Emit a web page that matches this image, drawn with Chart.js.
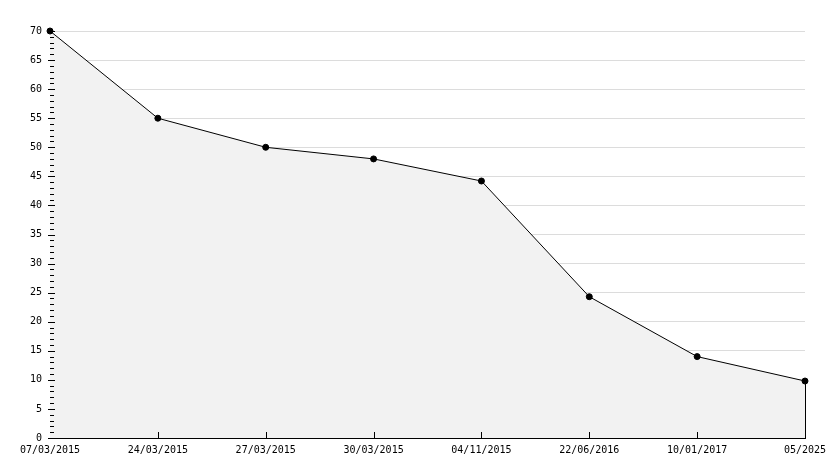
<!DOCTYPE html>
<html>
<head>
<meta charset="utf-8">
<script src="https://cdn.jsdelivr.net/npm/chart.js@4/dist/chart.umd.min.js"></script>
<style>
    html, body { margin: 0; padding: 0; background: #fff; }
</style>
</head>
<body>
<canvas id="chart" width="834" height="468"></canvas>
<script>
/* line chart data */
let
    dateLabels = ['07/03/2015', '24/03/2015', '27/03/2015', '30/03/2015', '04/11/2015', '22/06/2016', '10/01/2017', '05/2025'],
    values = [70, 55, 50, 48, 44.2, 24.3, 14, 9.8],
    yMin = 0,
    yMax = 70,
    yStep = 5;

Chart.defaults.font.family = '"DejaVu Sans Mono", monospace';
Chart.defaults.font.size = 10;
Chart.defaults.color = '#000';

// small inward ticks on both axes + right edge of the filled area
let axisTicks = {
    id: 'axisTicks',
    afterDatasetsDraw(chart) {
        let ctx = chart.ctx, x = chart.scales.x, y = chart.scales.y;
        let left = chart.chartArea.left, bottom = chart.chartArea.bottom;
        ctx.save();
        ctx.strokeStyle = '#000';
        ctx.lineWidth = 1;
        ctx.beginPath();
        for (let v = yMin; v <= yMax; v++) {
            let py = Math.round(y.getPixelForValue(v)) + 0.5;
            let major = v % yStep === 0;
            ctx.moveTo(left - (major ? 2 : 0), py);
            ctx.lineTo(left + (major ? 5 : 4), py);
        }
        for (let i = 1; i < dateLabels.length; i++) {
            let px = Math.round(x.getPixelForValue(i)) + 0.5;
            ctx.moveTo(px, bottom);
            ctx.lineTo(px, bottom - 6);
        }
        let last = values.length - 1;
        let lx = Math.round(x.getPixelForValue(last)) + 0.5;
        ctx.moveTo(lx, y.getPixelForValue(values[last]));
        ctx.lineTo(lx, bottom);
        ctx.stroke();
        ctx.restore();
    }
};

function displayLineChart() {
    let lineCtx = document.querySelector('#chart').getContext('2d');
    let lineChart;
    lineChart = new Chart(lineCtx, {
        type: 'line',
        data: {
            labels: dateLabels,
            datasets: [{
                data: values,
                borderColor: '#000',
                borderWidth: 1,
                backgroundColor: '#f2f2f2',
                fill: 'origin',
                tension: 0,
                clip: false,
                pointRadius: 3,
                pointStyle: 'circle',
                pointBackgroundColor: '#000',
                pointBorderColor: '#000',
                pointBorderWidth: 1
            }]
        },
        options: {
            responsive: false,
            animation: false,
            devicePixelRatio: 1,
            layout: {
                padding: { top: 31, right: 29, left: 0, bottom: 0 }
            },
            plugins: {
                legend: { display: false },
                tooltip: { enabled: false }
            },
            scales: {
                x: {
                    type: 'category',
                    offset: false,
                    grid: { display: false, drawTicks: false },
                    border: { display: true, color: '#000', width: 1 },
                    ticks: { padding: 6, maxRotation: 0, autoSkip: false },
                    afterFit(scale) { scale.height = 30; }
                },
                y: {
                    min: yMin,
                    max: yMax,
                    grid: {
                        drawTicks: false,
                        color: (c) => c.tick && c.tick.value === 0 ? 'rgba(0,0,0,0)' : '#dcdcdc'
                    },
                    border: { display: true, color: '#000', width: 1 },
                    ticks: { stepSize: yStep, padding: 8 },
                    afterFit(scale) { scale.width = 50; }
                }
            }
        },
        plugins: [axisTicks]
    });
}
displayLineChart();
</script>
</body>
</html>
